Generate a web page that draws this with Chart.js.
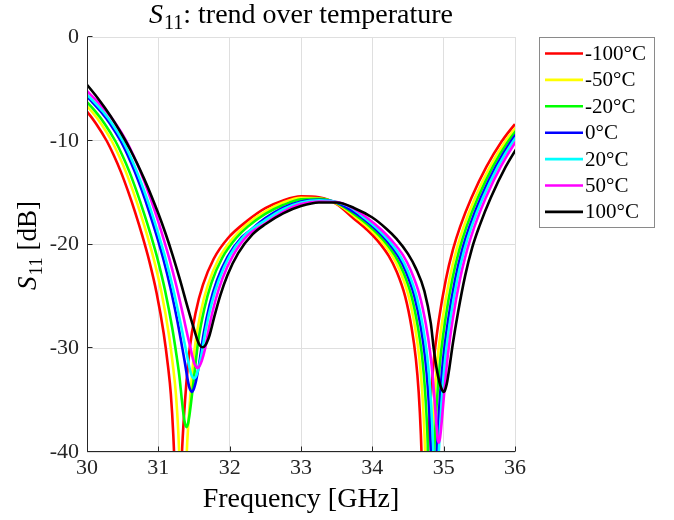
<!DOCTYPE html>
<html><head><meta charset="utf-8">
<script src="https://cdn.jsdelivr.net/npm/chart.js@4.4.1/dist/chart.umd.min.js"></script>
<style>html,body{margin:0;padding:0;background:#fff;}canvas{display:block;}</style>
</head><body>
<canvas id="c" width="674" height="520"></canvas>
<script>
const seriesLabels = ['-100°C','-50°C','-20°C','0°C','20°C','50°C','100°C'];
const seriesColors = ['#ff0000','#ffff00','#00ff00','#0000ff','#00ffff','#ff00ff','#000000'];
const xTickValues = [30,31,32,33,34,35,36];
const yTickValues = [0,-10,-20,-30,-40];
const titleText = ['S','11',': trend over temperature'];
const yAxisText = ['S','11',' [dB]'];
const xAxisText = 'Frequency [GHz]';

const freqM100 = [29.475,29.655,29.775,29.875,30.0,30.125,30.275,30.375,30.475,30.575,30.675,30.775,30.875,30.975,31.075,31.135,31.175,31.21,31.235,31.255,31.275,31.295,31.315,31.335,31.375,31.44,31.525,31.625,31.775,31.975,32.25,32.5,32.75,33.0,33.25,33.5,33.73,33.93,34.07,34.23,34.34,34.46,34.55,34.61,34.65,34.68,34.70,34.715,34.73,34.745,34.76,34.78,34.81,34.86,34.93,35.03,35.13,35.23,35.39,35.60,35.81,36.0,36.23];
const s11M100 = [-3.7,-4.77,-5.55,-6.25,-7.2,-8.33,-10.0,-11.4,-13.0,-14.86,-16.9,-19.15,-21.65,-24.65,-28.55,-31.7,-34.4,-38.4,-42.9,-48.4,-60,-48.7,-43,-39.5,-35,-30,-26.5,-23.9,-21.4,-19.4,-17.7,-16.5,-15.75,-15.35,-15.45,-16.1,-17.44,-18.6,-19.6,-21.1,-22.6,-25.0,-28.0,-31.0,-34.25,-38.25,-42.7,-48.4,-60,-50.0,-44.5,-40.0,-35.8,-31.3,-27.4,-23.4,-20.5,-18.3,-15.5,-12.5,-10.1,-8.4,-6.7];

const freqM50 = [29.545,29.725,29.845,29.945,30.07,30.195,30.345,30.445,30.545,30.645,30.745,30.845,30.945,31.045,31.145,31.205,31.245,31.28,31.305,31.325,31.345,31.365,31.385,31.405,31.445,31.51,31.595,31.695,31.845,32.045,32.25,32.5,32.75,33.0,33.25,33.5,33.78,33.98,34.12,34.28,34.39,34.51,34.60,34.66,34.70,34.73,34.75,34.765,34.78,34.795,34.81,34.83,34.86,34.91,34.98,35.08,35.18,35.28,35.44,35.65,35.86,36.05,36.28];
const s11M50 = [-3.7,-4.77,-5.55,-6.25,-7.2,-8.33,-10.0,-11.4,-13.0,-14.86,-16.9,-19.15,-21.65,-24.65,-28.55,-31.7,-34.3,-38.1,-42.1,-46.3,-50,-46.5,-42.2,-39.1,-34.9,-30,-26.5,-23.9,-21.4,-19.4,-18.0,-16.8,-15.95,-15.5,-15.55,-16.05,-17.44,-18.6,-19.6,-21.1,-22.6,-25.0,-28.0,-31.0,-34.25,-38.15,-42.45,-47.8,-55,-49.2,-44.2,-39.9,-35.8,-31.3,-27.4,-23.4,-20.5,-18.3,-15.5,-12.5,-10.1,-8.4,-6.7];

const freqM20 = [29.595,29.775,29.895,29.995,30.12,30.245,30.395,30.495,30.595,30.695,30.795,30.895,30.995,31.095,31.195,31.255,31.295,31.33,31.355,31.375,31.395,31.415,31.435,31.455,31.495,31.56,31.645,31.745,31.895,32.095,32.25,32.5,32.75,33.0,33.25,33.5,33.82,34.02,34.16,34.32,34.43,34.55,34.64,34.70,34.74,34.77,34.79,34.805,34.82,34.835,34.85,34.87,34.90,34.95,35.02,35.12,35.22,35.32,35.48,35.69,35.90,36.09,36.32];
const s11M20 = [-3.7,-4.77,-5.55,-6.25,-7.2,-8.33,-10.0,-11.4,-13.0,-14.86,-16.9,-19.1,-21.55,-24.45,-28.05,-30.7,-32.7,-35.0,-36.5,-37.3,-37.6,-37.3,-36.5,-35.45,-33.1,-29.3,-26.2,-23.7,-21.3,-19.35,-18.3,-17.05,-16.2,-15.65,-15.6,-16.0,-17.44,-18.6,-19.6,-21.1,-22.6,-25.0,-28.0,-30.95,-34.15,-37.95,-41.95,-46.3,-50,-47.2,-43.5,-39.6,-35.65,-31.25,-27.4,-23.4,-20.5,-18.3,-15.5,-12.5,-10.1,-8.4,-6.7];

const freqP0 = [29.67,29.85,29.97,30.07,30.195,30.32,30.47,30.57,30.67,30.77,30.87,30.97,31.07,31.17,31.27,31.33,31.37,31.405,31.43,31.45,31.47,31.49,31.51,31.53,31.57,31.635,31.72,31.82,31.97,32.17,32.25,32.5,32.75,33.0,33.25,33.5,33.86,34.06,34.20,34.36,34.47,34.59,34.68,34.74,34.78,34.81,34.83,34.845,34.86,34.875,34.89,34.91,34.94,34.99,35.06,35.16,35.26,35.36,35.52,35.73,35.94,36.13,36.36];
const s11P0 = [-3.7,-4.77,-5.55,-6.25,-7.2,-8.33,-10.0,-11.4,-13.0,-14.81,-16.82,-19.0,-21.4,-24.2,-27.5,-29.75,-31.3,-32.8,-33.65,-34.05,-34.2,-34.05,-33.65,-33.1,-31.6,-28.6,-25.8,-23.5,-21.2,-19.3,-18.85,-17.45,-16.45,-15.85,-15.7,-15.95,-17.44,-18.6,-19.6,-21.1,-22.6,-25.0,-27.95,-30.9,-34.0,-37.7,-41.3,-44.75,-47,-45.4,-42.6,-39.2,-35.5,-31.2,-27.4,-23.4,-20.5,-18.3,-15.5,-12.5,-10.1,-8.4,-6.7];

const freqP20 = [29.70,29.88,30.00,30.10,30.225,30.35,30.50,30.60,30.70,30.80,30.90,31.00,31.10,31.20,31.30,31.36,31.40,31.435,31.46,31.48,31.50,31.52,31.54,31.56,31.60,31.665,31.75,31.85,32.00,32.20,32.5,32.75,33.0,33.25,33.5,33.7,33.89,34.09,34.23,34.39,34.50,34.62,34.71,34.77,34.81,34.84,34.86,34.875,34.89,34.905,34.92,34.94,34.97,35.02,35.09,35.19,35.29,35.39,35.55,35.76,35.97,36.16,36.39];
const s11P20 = [-3.7,-4.77,-5.55,-6.25,-7.2,-8.33,-10.0,-11.4,-13.0,-14.79,-16.79,-18.97,-21.33,-24.05,-27.2,-29.25,-30.6,-31.83,-32.5,-32.8,-32.9,-32.8,-32.5,-32.05,-30.8,-28.2,-25.6,-23.4,-21.1,-19.2,-17.65,-16.6,-15.95,-15.75,-15.9,-16.45,-17.44,-18.6,-19.6,-21.1,-22.6,-25.0,-27.92,-30.83,-33.9,-37.4,-40.7,-43.45,-45,-43.9,-41.8,-38.8,-35.3,-31.1,-27.35,-23.4,-20.5,-18.3,-15.5,-12.5,-10.1,-8.4,-6.7];

const freqP50 = [29.75,29.93,30.05,30.15,30.275,30.40,30.55,30.65,30.75,30.85,30.95,31.05,31.15,31.25,31.35,31.41,31.45,31.485,31.51,31.53,31.55,31.57,31.59,31.61,31.65,31.715,31.80,31.90,32.05,32.25,32.5,32.75,33.0,33.25,33.5,33.7,33.93,34.13,34.27,34.43,34.54,34.66,34.75,34.81,34.85,34.88,34.90,34.915,34.93,34.945,34.96,34.98,35.01,35.06,35.13,35.23,35.33,35.43,35.59,35.80,36.01,36.20,36.43];
const s11P50 = [-3.7,-4.77,-5.55,-6.25,-7.2,-8.33,-10.0,-11.4,-13.0,-14.77,-16.76,-18.92,-21.26,-23.9,-26.9,-28.8,-29.96,-31.02,-31.57,-31.8,-31.9,-31.8,-31.55,-31.2,-30.2,-27.85,-25.4,-23.26,-21.03,-19.15,-17.95,-16.85,-16.1,-15.85,-15.9,-16.4,-17.44,-18.6,-19.6,-21.03,-22.5,-24.83,-27.67,-30.37,-33.0,-35.65,-37.5,-38.65,-39.1,-38.8,-38.0,-36.5,-34.1,-30.6,-27.1,-23.3,-20.5,-18.3,-15.5,-12.5,-10.1,-8.4,-6.7];

const freqP100 = [29.82,30.0,30.12,30.25,30.4,30.5,30.6,30.7,30.8,30.9,31.0,31.1,31.2,31.3,31.4,31.45,31.5,31.55,31.58,31.6,31.62,31.64,31.66,31.68,31.72,31.785,31.87,31.97,32.12,32.32,32.5,32.75,33.0,33.25,33.5,33.75,34.0,34.2,34.34,34.5,34.61,34.73,34.82,34.86,34.9,34.94,34.97,35.0,35.015,35.03,35.05,35.08,35.13,35.2,35.3,35.4,35.5,35.66,35.87,36.08];
const s11P100 = [-3.2,-4.6,-5.62,-6.83,-8.37,-9.52,-10.77,-12.15,-13.65,-15.27,-17.02,-18.92,-21.02,-23.32,-25.8,-27.0,-28.15,-29.25,-29.7,-29.85,-29.9,-29.85,-29.7,-29.45,-28.7,-26.95,-24.87,-22.93,-20.83,-19.03,-18.05,-17.0,-16.3,-15.95,-15.95,-16.5,-17.4,-18.5,-19.45,-20.9,-22.3,-24.5,-27.6,-30.0,-31.9,-33.25,-33.9,-34.2,-34.1,-33.8,-33.2,-31.9,-29.5,-26.6,-23.05,-20.3,-18.25,-15.5,-12.5,-10.1];

const freqs = [freqM100, freqM50, freqM20, freqP0, freqP20, freqP50, freqP100];
const s11s = [s11M100, s11M50, s11M20, s11P0, s11P20, s11P50, s11P100];

const FONT = "'Liberation Serif', 'Times New Roman', serif";
const INK = '#262626';

function drawRich(ctx, parts, cx, baseY, size) {
  const subSize = Math.round(size * 0.7);
  const fMain = 'italic ' + size + 'px ' + FONT;
  const fSub = subSize + 'px ' + FONT;
  const fRest = size + 'px ' + FONT;
  ctx.font = fMain; const w0 = ctx.measureText(parts[0]).width + 1;
  ctx.font = fSub; const w1 = ctx.measureText(parts[1]).width;
  ctx.font = fRest; const w2 = ctx.measureText(parts[2]).width;
  let x = cx - (w0 + w1 + w2) / 2;
  ctx.textAlign = 'left'; ctx.textBaseline = 'alphabetic';
  ctx.font = fMain; ctx.fillText(parts[0], x, baseY); x += w0;
  ctx.font = fSub; ctx.fillText(parts[1], x, baseY + size * 0.22); x += w1;
  ctx.font = fRest; ctx.fillText(parts[2], x, baseY);
}

const decor = {
  id: 'decor',
  afterDatasetsDraw(chart) {
    const {ctx, chartArea: a, scales: {x, y}} = chart;
    ctx.save();
    ctx.strokeStyle = INK; ctx.lineWidth = 1;
    ctx.beginPath();
    const L = Math.round(a.left) + 0.5, B = Math.round(a.bottom) - 0.5;
    ctx.moveTo(L, a.top); ctx.lineTo(L, B); ctx.lineTo(a.right, B);
    xTickValues.forEach(v => { const p = Math.round(x.getPixelForValue(v)) + 0.5; ctx.moveTo(p, B); ctx.lineTo(p, B - 5); });
    yTickValues.forEach(v => { const p = Math.round(y.getPixelForValue(v)) - 0.5; ctx.moveTo(L, p); ctx.lineTo(L + 5, p); });
    ctx.stroke();
    ctx.fillStyle = '#000';
    const cx = (a.left + a.right) / 2;
    drawRich(ctx, titleText, cx, 23, 28);
    ctx.font = '28px ' + FONT; ctx.textAlign = 'center'; ctx.textBaseline = 'alphabetic';
    ctx.fillText(xAxisText, cx, 507);
    ctx.save();
    ctx.translate(36, (a.top + a.bottom) / 2 + 1);
    ctx.rotate(-Math.PI / 2);
    drawRich(ctx, yAxisText, 0, 0, 27);
    ctx.restore();
    const lx = 539.5, ly = 37.5, lw = 115, lh = 190;
    ctx.fillStyle = '#fff'; ctx.fillRect(lx, ly, lw, lh);
    ctx.strokeStyle = '#8a8a8a'; ctx.lineWidth = 1; ctx.strokeRect(lx, ly, lw, lh);
    chart.data.datasets.forEach((ds, i) => {
      const cy = 53.5 + i * 26.4;
      ctx.strokeStyle = ds.borderColor; ctx.lineWidth = 2.6;
      ctx.beginPath(); ctx.moveTo(545, cy); ctx.lineTo(583, cy); ctx.stroke();
      ctx.fillStyle = '#000'; ctx.font = '21px ' + FONT; ctx.textAlign = 'left'; ctx.textBaseline = 'middle';
      ctx.fillText(ds.label, 585, cy + 1);
    });
    ctx.restore();
  }
};

new Chart(document.getElementById('c'), {
  type: 'line',
  data: {
    datasets: seriesLabels.map((lab, i) => ({
      label: lab,
      data: freqs[i].map((f, k) => ({x: f, y: s11s[i][k]})),
      borderColor: seriesColors[i],
      backgroundColor: seriesColors[i],
      borderWidth: 2.6,
      pointRadius: 0,
      fill: false,
      cubicInterpolationMode: 'monotone',
      order: seriesLabels.length - 1 - i,
      clip: 0
    }))
  },
  options: {
    responsive: false, animation: false, devicePixelRatio: 1,
    layout: {padding: {left: 0, right: 159, top: 37, bottom: 0}},
    plugins: {legend: {display: false}, tooltip: {enabled: false}, title: {display: false}},
    scales: {
      x: {
        type: 'linear', min: 30, max: 36,
        afterBuildTicks: s => { s.ticks = xTickValues.map(v => ({value: v})); },
        afterFit: s => { s.height = 68; },
        grid: {color: '#dfdfdf', lineWidth: 1, drawTicks: false},
        border: {display: false},
        ticks: {font: {family: FONT, size: 22}, color: INK, padding: 3, maxRotation: 0, autoSkip: false, callback: v => String(v)}
      },
      y: {
        type: 'linear', min: -40, max: 0,
        afterBuildTicks: s => { s.ticks = yTickValues.map(v => ({value: v})); },
        afterFit: s => { s.width = 87; },
        grid: {color: '#dfdfdf', lineWidth: 1, drawTicks: false},
        border: {display: false},
        ticks: {font: {family: FONT, size: 22}, color: INK, padding: 8, autoSkip: false, callback: v => String(v)}
      }
    }
  },
  plugins: [decor]
});
</script>
</body></html>
